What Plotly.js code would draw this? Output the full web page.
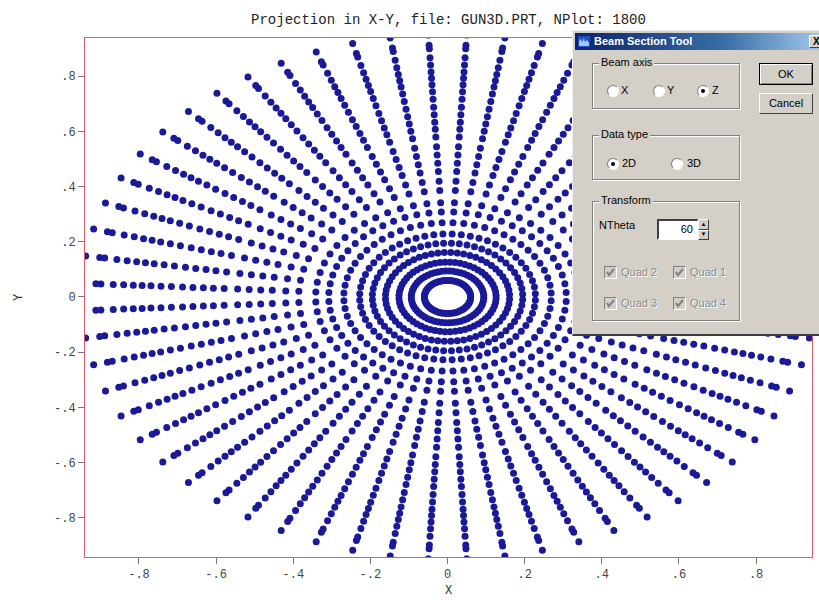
<!DOCTYPE html>
<html>
<head>
<meta charset="utf-8">
<script src="https://cdn.plot.ly/plotly-3.0.1.min.js"></script>
<style>
  html, body { margin: 0; padding: 0; background: #fff; }
  #wrap { position: relative; width: 819px; height: 605px; overflow: hidden; }
  #plot { position: absolute; left: 0; top: 0; width: 819px; height: 605px; }
  #dlg { position: absolute; left: 572px; top: 30px; width: 252px; height: 306px;
         background: #d4d0c8; border-left: 1px solid #f0f0f0; border-top: 1px solid #f0f0f0;
         border-bottom: 2px solid #404040; box-sizing: border-box;
         font-family: "Liberation Sans", Arial, sans-serif; font-size: 11px; color: #000; }
  #dlg .tb { position: absolute; left: 2px; top: 2px; right: 0; height: 17px;
             background: linear-gradient(to right, #0a246a, #3a6ea5 60%, #a6caf0); }
  #dlg .tb .ttl { position: absolute; left: 19px; top: 2px; color: #fff; font-weight: bold; font-size: 11px; }
  #dlg .tb .ico { position: absolute; left: 3px; top: 3px; width: 12px; height: 11px; }
  #dlg .tb .cls { position: absolute; left: 234px; top: 2px; width: 16px; height: 13px; background: #d4d0c8;
                  border: 1px solid; border-color: #fff #404040 #404040 #fff; box-sizing: border-box;
                  font-weight: bold; font-size: 10px; line-height: 11px; text-indent: 3px; }
  .grp { position: absolute; border: 1px solid #808080; box-shadow: inset 1px 1px 0 #fff, 1px 1px 0 #fff; box-sizing: border-box; }
  .grp .lbl { position: absolute; left: 6px; top: -8px; background: #d4d0c8; padding: 0 2px; }
  .radio { position: absolute; width: 12px; height: 12px; border-radius: 50%; background: #fff;
           border: 1px solid; border-color: #808080 #fff #fff #808080; box-sizing: border-box; }
  .radio.on::after { content: ""; position: absolute; left: 3px; top: 3px; width: 4px; height: 4px; border-radius: 50%; background: #000; }
  .txt { position: absolute; white-space: nowrap; }
  .btn { position: absolute; background: #d4d0c8; border: 1px solid; border-color: #fff #404040 #404040 #fff;
         box-sizing: border-box; text-align: center; }
  .chk { position: absolute; width: 13px; height: 13px; background: #d4d0c8; border: 1px solid;
         border-color: #808080 #fff #fff #808080; box-sizing: border-box; }
  .dis { color: #8a8a8a; text-shadow: 1px 1px 0 #fff; }
</style>
</head>
<body>
<div id="wrap">
  <div id="plot"></div>
  <div id="dlg">
    <div class="tb">
      <svg class="ico" viewBox="0 0 12 11"><rect x="0" y="0" width="12" height="11" fill="#2050c0"/><path d="M1 10 L1 5 L3 3 L4 6 L6 2 L7 6 L9 4 L11 7 L11 10 Z" fill="#9cc8ff"/></svg>
      <div class="ttl">Beam Section Tool</div>
      <div class="cls">X</div>
    </div>
    <div class="grp" style="left:19px; top:32px; width:148px; height:46px;"><span class="lbl">Beam axis</span></div>
    <div class="radio" style="left:34px; top:54px;"></div><div class="txt" style="left:48px; top:53px;">X</div>
    <div class="radio" style="left:80px; top:54px;"></div><div class="txt" style="left:94px; top:53px;">Y</div>
    <div class="radio on" style="left:124px; top:54px;"></div><div class="txt" style="left:139px; top:53px;">Z</div>

    <div class="btn" style="left:186px; top:32px; width:54px; height:22px; border:1px solid #000; box-shadow: inset 1px 1px 0 #fff, inset -1px -1px 0 #808080; line-height:20px;">OK</div>
    <div class="btn" style="left:186px; top:62px; width:54px; height:21px; line-height:19px;">Cancel</div>

    <div class="grp" style="left:19px; top:104px; width:148px; height:45px;"><span class="lbl">Data type</span></div>
    <div class="radio on" style="left:34px; top:127px;"></div><div class="txt" style="left:49px; top:126px;">2D</div>
    <div class="radio" style="left:98px; top:127px;"></div><div class="txt" style="left:114px; top:126px;">3D</div>

    <div class="grp" style="left:19px; top:170px; width:148px; height:120px;"><span class="lbl">Transform</span></div>
    <div class="txt" style="left:26px; top:188px;">NTheta</div>
    <div style="position:absolute; left:84px; top:188px; width:42px; height:21px; background:#fff; border:2px solid; border-color:#404040 #fff #fff #404040; box-sizing:border-box; text-align:right; padding-right:4px; line-height:17px;">60</div>
    <div class="btn" style="left:125px; top:188px; width:11px; height:11px; font-size:6px; line-height:8px;">&#9650;</div>
    <div class="btn" style="left:125px; top:199px; width:11px; height:10px; font-size:6px; line-height:7px;">&#9660;</div>

    <div class="chk" style="left:31px; top:235px;"><svg width="11" height="11" viewBox="0 0 11 11"><path d="M2 5 L4 8 L9 2" stroke="#808080" stroke-width="2" fill="none"/></svg></div>
    <div class="txt dis" style="left:48px; top:235px;">Quad 2</div>
    <div class="chk" style="left:100px; top:235px;"><svg width="11" height="11" viewBox="0 0 11 11"><path d="M2 5 L4 8 L9 2" stroke="#808080" stroke-width="2" fill="none"/></svg></div>
    <div class="txt dis" style="left:117px; top:235px;">Quad 1</div>
    <div class="chk" style="left:31px; top:266px;"><svg width="11" height="11" viewBox="0 0 11 11"><path d="M2 5 L4 8 L9 2" stroke="#808080" stroke-width="2" fill="none"/></svg></div>
    <div class="txt dis" style="left:48px; top:266px;">Quad 3</div>
    <div class="chk" style="left:100px; top:266px;"><svg width="11" height="11" viewBox="0 0 11 11"><path d="M2 5 L4 8 L9 2" stroke="#808080" stroke-width="2" fill="none"/></svg></div>
    <div class="txt dis" style="left:117px; top:266px;">Quad 4</div>
  </div>
</div>
<script>
// Particle radii along each radial ray
var radii = [0.060, 0.094, 0.126, 0.161, 0.195, 0.228, 0.269, 0.308, 0.342, 0.386,
             0.420, 0.455, 0.485, 0.515, 0.545, 0.580, 0.608, 0.634, 0.661, 0.688,
             0.717, 0.744, 0.770, 0.793, 0.816, 0.841, 0.868, 0.900, 0.913, 0.950];
// Ray angles in degrees (NTheta = 60)
var thetaDeg = [3, 9, 15, 21, 27, 33, 39, 45, 51, 57, 63, 69, 75, 81, 87,
                93, 99, 105, 111, 117, 123, 129, 135, 141, 147, 153, 159, 165, 171, 177,
                183, 189, 195, 201, 207, 213, 219, 225, 231, 237, 243, 249, 255, 261, 267,
                273, 279, 285, 291, 297, 303, 309, 315, 321, 327, 333, 339, 345, 351, 357];
var tickVals = [-0.8, -0.6, -0.4, -0.2, 0, 0.2, 0.4, 0.6, 0.8];
var tickText = ['-.8', '-.6', '-.4', '-.2', '0', '.2', '.4', '.6', '.8'];

var xs = [], ys = [];
thetaDeg.forEach(function (t) {
  var a = t * Math.PI / 180;
  radii.forEach(function (r) {
    xs.push(r * Math.cos(a));
    ys.push(r * Math.sin(a));
  });
});

var frame = '#e05a6a';
var tickFont = { family: 'Liberation Mono, monospace', size: 12, color: '#444' };
var axisBase = {
  showgrid: false, zeroline: false, showline: true, mirror: true,
  linecolor: frame, linewidth: 1,
  ticks: 'outside', ticklen: 6, tickcolor: '#777', tickwidth: 1,
  tickmode: 'array', tickvals: tickVals, ticktext: tickText,
  tickfont: tickFont
};

var layout = {
  width: 819, height: 605,
  margin: { l: 85, r: 7, t: 38, b: 48 },
  paper_bgcolor: '#fff', plot_bgcolor: '#fff',
  showlegend: false,
  hovermode: false,
  title: { text: 'Projection in X-Y, file: GUN3D.PRT, NPlot: 1800',
           font: { family: 'Liberation Mono, monospace', size: 14, color: '#222' },
           xref: 'paper', x: 0.5, xanchor: 'center', yref: 'container', y: 1 - 19 / 605, yanchor: 'middle' },
  xaxis: Object.assign({}, axisBase, {
    range: [-0.94, 0.945],
    title: { text: 'X', font: { family: 'Liberation Mono, monospace', size: 12, color: '#333' }, standoff: 4 }
  }),
  yaxis: Object.assign({}, axisBase, {
    range: [-0.942, 0.938],
    title: { text: 'Y', font: { family: 'Liberation Mono, monospace', size: 12, color: '#333' }, standoff: 28 }
  })
};

var trace = {
  type: 'scatter', mode: 'markers', x: xs, y: ys,
  marker: { color: '#1a1a98', size: 7, line: { width: 0 } },
  cliponaxis: true
};

Plotly.newPlot('plot', [trace], layout, { displayModeBar: false, staticPlot: true });
</script>
</body>
</html>
